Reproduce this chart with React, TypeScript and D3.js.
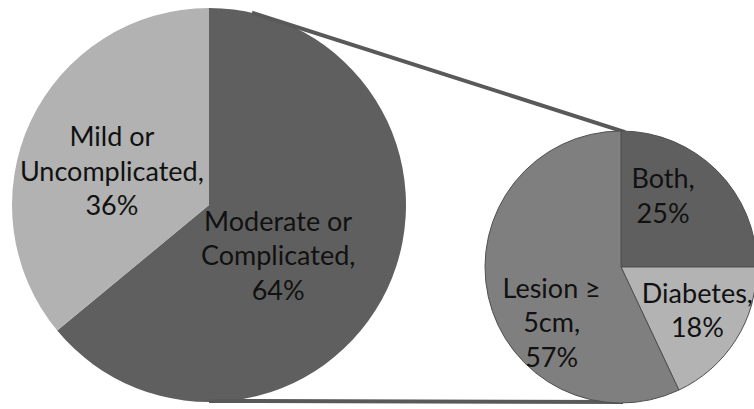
import * as d3 from "d3";

// Primary pie: severity split
const mainLabels = ["Moderate or Complicated", "Mild or Uncomplicated"];
const mainValues = [64, 36];
const mainText = [
  ["Moderate or", "Complicated,", "64%"],
  ["Mild or", "Uncomplicated,", "36%"],
];
const mainColors = ["#5f5f5f", "#b2b2b2"];

// Secondary pie: breakdown of the moderate/complicated group
const subLabels = ["Both", "Diabetes", "Lesion ≥ 5cm"];
const subValues = [25, 18, 57];
const subText = [
  ["Both,", "25%"],
  ["Diabetes,", "18%"],
  ["Lesion ≥", "5cm,", "57%"],
];
const subColors = ["#5f5f5f", "#b3b3b3", "#7f7f7f"];

const W = 754;
const H = 409;

// label nudges from the arc centroid (Excel "best fit" placement)
const mainNudge: [number, number][] = [
  [-20, 9],
  [-8, 8],
];
const subNudge: [number, number][] = [
  [-6, -23],
  [19, 7],
  [-3, 41],
];

const FONT = "Lato, 'Open Sans', sans-serif";
const FS = 27;
const LH = 34.5;

function Labels({
  arcs,
  arcGen,
  text,
  nudge,
}: {
  arcs: d3.PieArcDatum<number>[];
  arcGen: d3.Arc<any, d3.PieArcDatum<number>>;
  text: string[][];
  nudge: [number, number][];
}) {
  return (
    <>
      {arcs.map((a, i) => {
        const [cx, cy] = arcGen.centroid(a);
        const x = cx + nudge[i][0];
        const y = cy + nudge[i][1];
        const lines = text[i];
        return (
          <text
            key={i}
            x={x}
            textAnchor="middle"
            fontFamily={FONT}
            fontSize={FS}
            fill="#111"
          >
            {lines.map((l, j) => (
              <tspan key={j} x={x} y={y + (j - (lines.length - 1) / 2) * LH + 9.5}>
                {l}
              </tspan>
            ))}
          </text>
        );
      })}
    </>
  );
}

export default function App() {
  const mainC = { x: 209, y: 205, r: 197 };
  const subC = { x: 621, y: 267, r: 136 };

  // both pies start at 12 o'clock and run clockwise
  const mainArcs = d3
    .pie<number>()
    .sort(null)
    .value((d) => d)(mainValues);
  const subArcs = d3
    .pie<number>()
    .sort(null)
    .value((d) => d)(subValues);

  const mainArc = d3.arc<d3.PieArcDatum<number>>().innerRadius(0).outerRadius(mainC.r);
  const subArc = d3.arc<d3.PieArcDatum<number>>().innerRadius(0).outerRadius(subC.r);

  // connector lines: from main pie edge to top / bottom of the sub pie
  const topAngle = 0.22;
  const p = (c: { x: number; y: number; r: number }, ang: number) => [
    c.x + c.r * Math.sin(ang),
    c.y - c.r * Math.cos(ang),
  ];
  const [t1x, t1y] = p(mainC, topAngle);
  const [t2x, t2y] = p(subC, 0.03);
  const [b1x, b1y] = p(mainC, Math.PI);
  const [b2x, b2y] = p(subC, Math.PI);

  return (
    <div style={{ position: "absolute", left: 0, top: 0 }}>
      <svg width={W} height={H} style={{ display: "block", background: "#fff" }}>
        <g transform={`translate(${mainC.x},${mainC.y})`}>
          {mainArcs.map((a, i) => (
            <path key={mainLabels[i]} d={mainArc(a) ?? ""} fill={mainColors[i]} />
          ))}
        </g>
        <g stroke="#595959" strokeWidth={4}>
          <line x1={t1x} y1={t1y} x2={t2x} y2={t2y + 1} />
          <line x1={b1x} y1={b1y - 1} x2={b2x + 2} y2={b2y - 1} />
        </g>
        <g transform={`translate(${subC.x},${subC.y})`}>
          {subArcs.map((a, i) => (
            <path
              key={subLabels[i]}
              d={subArc(a) ?? ""}
              fill={subColors[i]}
              stroke="#505050"
              strokeWidth={1}
            />
          ))}
        </g>
        <g transform={`translate(${mainC.x},${mainC.y})`}>
          <Labels arcs={mainArcs} arcGen={mainArc} text={mainText} nudge={mainNudge} />
        </g>
        <g transform={`translate(${subC.x},${subC.y})`}>
          <Labels arcs={subArcs} arcGen={subArc} text={subText} nudge={subNudge} />
        </g>
      </svg>
    </div>
  );
}
